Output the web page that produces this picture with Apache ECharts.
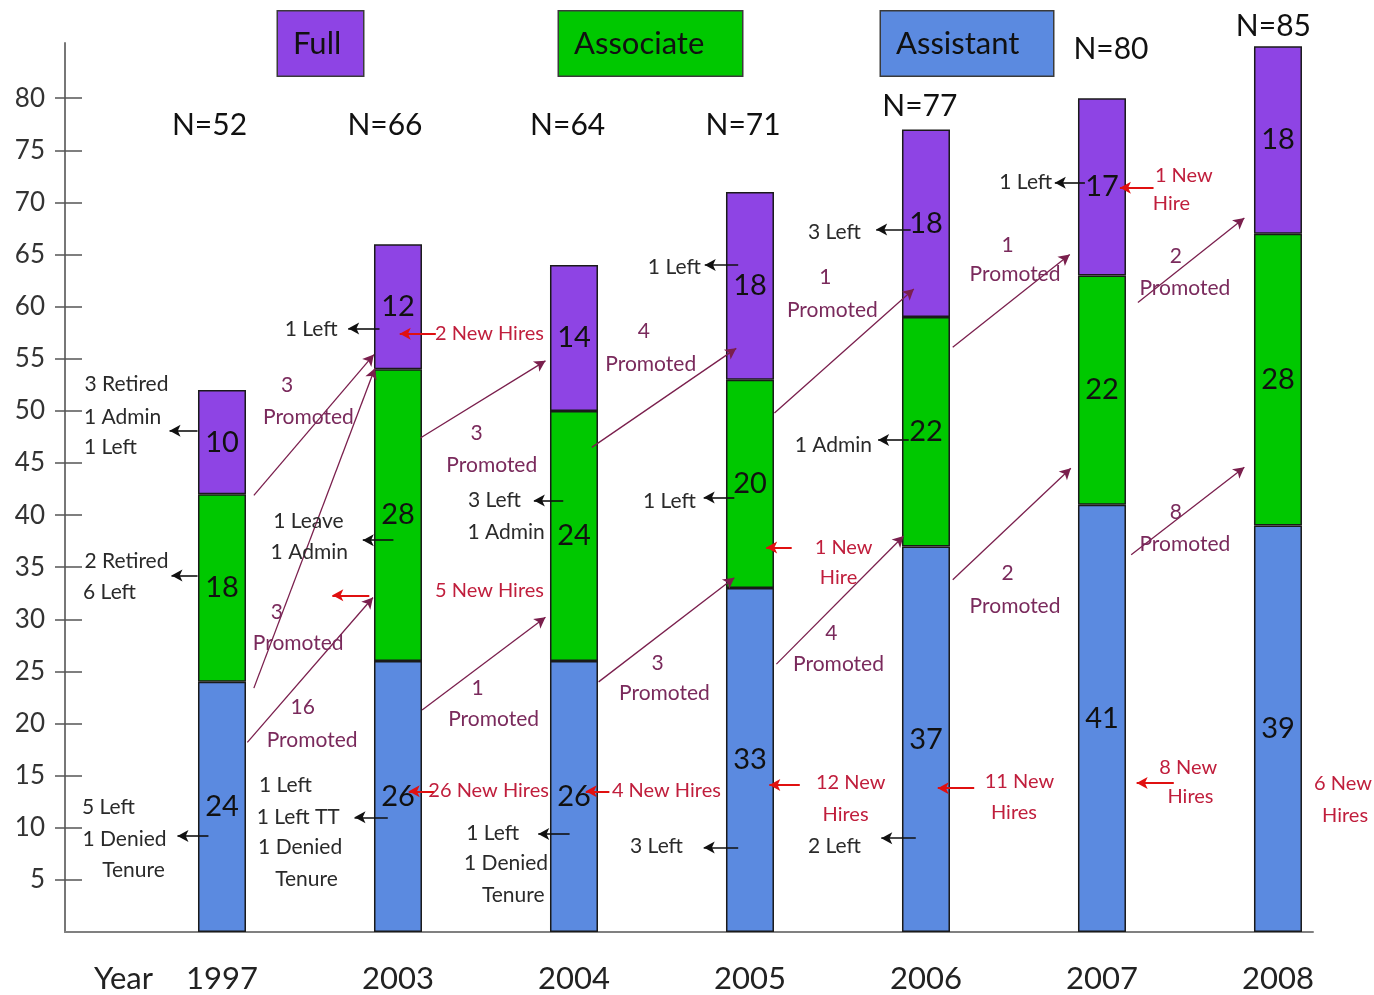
<!DOCTYPE html>
<html>
<head>
<meta charset="utf-8">
<title>Faculty by rank</title>
<script src="https://cdn.jsdelivr.net/npm/echarts@6/dist/echarts.min.js"></script>
<style>
  html, body { margin: 0; padding: 0; background: #fff; }
  #chart { width: 1374px; height: 995px; }
</style>
</head>
<body>
<div id="chart"></div>
<script>
var years = ['1997', '2003', '2004', '2005', '2006', '2007', '2008'];
var assistant = [24, 26, 26, 33, 37, 41, 39];
var associate = [18, 28, 24, 20, 22, 22, 28];
var full = [10, 12, 14, 18, 18, 17, 18];
var totals = [52, 66, 64, 71, 77, 80, 85];
var yTicks = [5, 10, 15, 20, 25, 30, 35, 40, 45, 50, 55, 60, 65, 70, 75, 80];

// annotation places, in axis units: [x (year index), y (count)]
var countPos = [[-0.071, 77.4], [0.926, 77.4], [1.964, 77.4], [2.961, 77.4], [3.965, 79.2], [5.051, 84.7], [5.974, 86.9]];

// black notes: leavers, admins
var blackNotes = [
    [-0.543, 52.6, '3 Retired'], [-0.565, 49.4, '1 Admin'], [-0.634, 46.5, '1 Left'],
    [-0.543, 35.6, '2 Retired'], [-0.639, 32.6, '6 Left'],
    [-0.645, 12.0, '5 Left'], [-0.554, 8.9, '1 Denied'], [-0.503, 5.95, 'Tenure'],
    [0.507, 57.8, '1 Left'], [0.491, 39.4, '1 Leave'], [0.496, 36.4, '1 Admin'],
    [0.360, 14.1, '1 Left'], [0.433, 11.0, '1 Left TT'], [0.444, 8.1, '1 Denied'], [0.480, 5.1, 'Tenure'],
    [1.548, 41.4, '3 Left'], [1.614, 38.4, '1 Admin'],
    [1.538, 9.5, '1 Left'], [1.614, 6.6, '1 Denied'], [1.655, 3.55, 'Tenure'],
    [2.570, 63.8, '1 Left'], [2.542, 41.3, '1 Left'], [2.469, 8.2, '3 Left'],
    [3.480, 67.1, '3 Left'], [3.474, 46.7, '1 Admin'], [3.480, 8.2, '2 Left'],
    [4.567, 71.9, '1 Left']
];

// promotions
var promoNotes = [
    [0.370, 52.5, '3'], [0.491, 49.4, 'Promoted'],
    [0.312, 30.7, '3'], [0.433, 27.7, 'Promoted'],
    [0.459, 21.6, '16'], [0.512, 18.4, 'Promoted'],
    [1.447, 47.9, '3'], [1.533, 44.8, 'Promoted'],
    [1.452, 23.4, '1'], [1.543, 20.4, 'Promoted'],
    [2.397, 57.6, '4'], [2.436, 54.5, 'Promoted'],
    [2.475, 25.8, '3'], [2.514, 22.9, 'Promoted'],
    [3.428, 62.8, '1'], [3.468, 59.7, 'Promoted'],
    [3.462, 28.7, '4'], [3.503, 25.7, 'Promoted'],
    [4.463, 65.9, '1'], [4.506, 63.1, 'Promoted'],
    [4.463, 34.4, '2'], [4.506, 31.3, 'Promoted'],
    [5.420, 64.8, '2'], [5.471, 61.8, 'Promoted'],
    [5.420, 40.3, '8'], [5.471, 37.2, 'Promoted']
];

// new hires
var hireNotes = [
    [1.520, 57.4, '2 New Hires'], [1.515, 13.6, '26 New Hires'], [1.520, 32.8, '5 New Hires'],
    [2.525, 13.6, '4 New Hires'],
    [3.532, 36.9, '1 New'], [3.503, 34.0, 'Hire'],
    [3.572, 14.3, '12 New'], [3.543, 11.3, 'Hires'],
    [4.531, 14.4, '11 New'], [4.500, 11.5, 'Hires'],
    [5.465, 72.6, '1 New'], [5.395, 69.9, 'Hire'],
    [5.490, 15.8, '8 New'], [5.503, 13.0, 'Hires'],
    [6.369, 14.2, '6 New'], [6.381, 11.2, 'Hires']
];

// arrows: [x1, y1, x2, y2], head at the second point
var leaveArrows = [
    [-0.139, 48.1, -0.298, 48.1], [-0.139, 34.2, -0.287, 34.2], [-0.077, 9.2, -0.253, 9.2],
    [0.895, 57.9, 0.717, 57.9], [0.974, 37.6, 0.800, 37.6], [0.942, 11.0, 0.753, 11.0],
    [1.939, 41.4, 1.772, 41.4], [1.975, 9.4, 1.797, 9.4],
    [2.933, 64.0, 2.743, 64.0], [2.911, 41.7, 2.737, 41.7], [2.933, 8.1, 2.737, 8.1],
    [3.913, 67.4, 3.717, 67.4], [3.902, 47.2, 3.728, 47.2], [3.942, 9.0, 3.746, 9.0],
    [4.903, 71.9, 4.732, 71.9]
];
var hireArrows = [
    [1.215, 57.4, 1.010, 57.4], [0.837, 32.3, 0.627, 32.3], [1.205, 13.5, 1.061, 13.5],
    [2.201, 13.5, 2.067, 13.5], [3.237, 36.9, 3.092, 36.9], [3.283, 14.1, 3.110, 14.1],
    [4.274, 13.8, 4.067, 13.8], [5.293, 71.4, 5.102, 71.4], [5.408, 14.3, 5.197, 14.3],
    [6.284, 12.9, 6.108, 12.9]
];
var promoArrows = [
    [0.181, 41.9, 0.863, 55.4], [0.181, 23.4, 0.869, 54.1], [0.144, 18.2, 0.858, 32.1],
    [1.127, 47.4, 1.838, 54.8], [1.137, 21.3, 1.838, 30.2],
    [2.101, 46.5, 2.922, 56.0], [2.140, 24.0, 2.911, 34.0],
    [3.139, 49.8, 3.931, 61.7], [3.150, 25.7, 3.873, 38.0],
    [4.152, 56.1, 4.817, 65.0], [4.152, 33.8, 4.823, 44.5],
    [5.204, 60.4, 5.809, 68.5], [5.166, 36.2, 5.809, 44.6]
];

var fontFamily = 'Lato, "Open Sans", sans-serif';
var colors = {full: '#8e44e4', associate: '#00c800', assistant: '#5b8ae0'};

var myChart = echarts.init(document.getElementById('chart'));

// [count, year index] so that the stack runs on the count
function pairs(values) {
    return values.map(function (v, i) { return [v, i]; });
}

function textSeries(name, items, color, size) {
    return {
        type: 'custom',
        name: name,
        silent: true,
        z: 6,
        data: items.map(function (d) { return [d[0], d[1]]; }),
        renderItem: function (params, api) {
            var p = api.coord([api.value(0), api.value(1)]);
            return {
                type: 'text',
                x: p[0],
                y: p[1],
                style: {
                    text: items[params.dataIndex][2],
                    fill: color,
                    fontSize: size,
                    fontFamily: fontFamily,
                    align: 'center',
                    verticalAlign: 'middle'
                }
            };
        }
    };
}

function arrowSeries(name, arrows, color, width) {
    return {
        type: 'line',
        name: name,
        data: [],
        z: 8,
        silent: true,
        markLine: {
            silent: true,
            animation: false,
            symbol: ['none', 'arrow'],
            symbolSize: [9, 11],
            label: {show: false},
            lineStyle: {color: color, width: width, type: 'solid'},
            data: arrows.map(function (a) {
                return [{coord: [a[0], a[1]]}, {coord: [a[2], a[3]]}];
            })
        }
    };
}

function legendBox(name, left, width, color) {
    return {
        left: left,
        top: 5,
        itemWidth: 0,
        itemHeight: 0,
        selectedMode: false,
        data: [{
            name: name,
            textStyle: {
                fontSize: 31,
                fontFamily: fontFamily,
                color: '#111',
                backgroundColor: color,
                borderColor: '#3a3a3a',
                borderWidth: 1.5,
                padding: [17, 0, 17, 15],
                width: width,
                height: 30
            }
        }]
    };
}

function barSeries(name, values, color) {
    return {
        type: 'bar',
        name: name,
        stack: 'total',
        barWidth: 48,
        clip: false,
        encode: {x: 1, y: 0},
        data: pairs(values),
        itemStyle: {color: color, borderColor: '#1a1a1a', borderWidth: 1.5},
        label: {
            show: true,
            position: 'inside',
            fontSize: 29,
            fontFamily: fontFamily,
            color: '#111',
            formatter: function (p) { return p.value[0]; }
        }
    };
}

var countNotes = countPos.map(function (p, i) { return [p[0], p[1], 'N=' + totals[i]]; });

myChart.setOption({
    animation: false,
    legend: [
        legendBox('Full', 267, 70, colors.full),
        legendBox('Associate', 548, 168, colors.associate),
        legendBox('Assistant', 870, 157, colors.assistant)
    ],
    grid: {left: 65, right: 61, top: 43, bottom: 63},
    xAxis: {
        type: 'value',
        min: -0.892,
        max: 6.199,
        splitLine: {show: false},
        axisTick: {show: false},
        axisLine: {show: true, onZero: false, lineStyle: {color: '#808080', width: 2}},
        axisLabel: {
            customValues: [-0.56, 0, 1, 2, 3, 4, 5, 6],
            formatter: function (v) { return v < 0 ? 'Year' : years[Math.round(v)]; },
            fontSize: 31,
            fontFamily: fontFamily,
            color: '#222',
            margin: 31
        }
    },
    yAxis: [{
        type: 'value',
        min: 0,
        max: 85.3,
        splitLine: {show: false},
        axisLine: {show: true, onZero: false, lineStyle: {color: '#777', width: 2}},
        axisTick: {show: true, length: 10, customValues: yTicks, lineStyle: {color: '#555', width: 1.5}},
        axisLabel: {customValues: yTicks, fontSize: 26, fontFamily: fontFamily, color: '#333', margin: 20}
    }, {
        type: 'value',
        min: 0,
        max: 85.3,
        position: 'left',
        splitLine: {show: false},
        axisLine: {show: false, onZero: false},
        axisTick: {show: true, inside: true, length: 17, customValues: yTicks, lineStyle: {color: '#555', width: 1.5}},
        axisLabel: {show: false}
    }],
    series: [
        barSeries('Assistant', assistant, colors.assistant),
        barSeries('Associate', associate, colors.associate),
        barSeries('Full', full, colors.full),
        arrowSeries('promo arrows', promoArrows, '#7a1f4d', 1.3),
        arrowSeries('leave arrows', leaveArrows, '#111', 1.6),
        arrowSeries('hire arrows', hireArrows, '#e01010', 2),
        textSeries('counts', countNotes, '#111', 30),
        textSeries('leaves', blackNotes, '#2a2a2a', 21),
        textSeries('promotions', promoNotes, '#7a2a5c', 21),
        textSeries('hires', hireNotes, '#c01e3c', 20)
    ]
});

window.onresize = function () {
    myChart.resize();
};
</script>
</body>
</html>
